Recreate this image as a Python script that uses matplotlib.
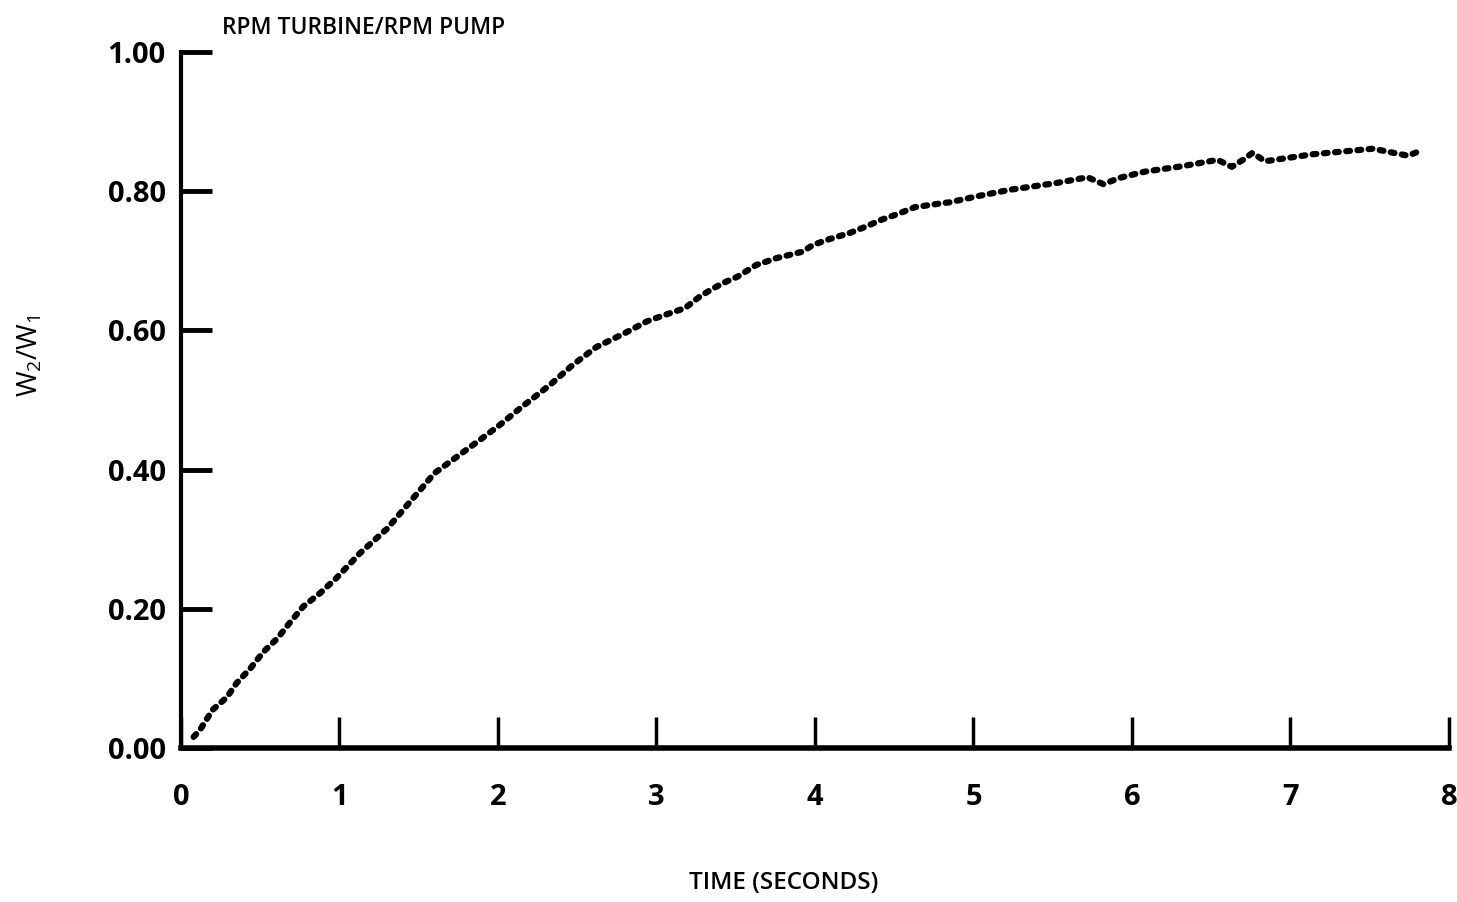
import matplotlib
matplotlib.use("Agg")
import numpy as np
import matplotlib.pyplot as plt

# time (s) and speed ratio
t = [0.08, 0.12, 0.20, 0.29, 0.35, 0.44, 0.52, 0.61, 0.69, 0.77, 0.88, 0.98,
     1.13, 1.30, 1.45, 1.60, 1.75, 1.90, 2.00, 2.15, 2.33, 2.47, 2.62, 2.71,
     2.80, 2.94, 3.05, 3.18, 3.27, 3.34, 3.42, 3.51, 3.63, 3.76, 3.92, 3.99,
     4.09, 4.22, 4.32, 4.42, 4.52, 4.63, 4.81, 4.85, 5.03, 5.23, 5.53, 5.72,
     5.82, 5.92, 6.08, 6.32, 6.54, 6.63, 6.70, 6.76, 6.84, 7.14, 7.52, 7.74,
     7.82]
ratio = [0.016, 0.026, 0.055, 0.073, 0.093, 0.115, 0.138, 0.158, 0.181, 0.203,
         0.223, 0.244, 0.280, 0.315, 0.355, 0.395, 0.420, 0.445, 0.462, 0.490,
         0.522, 0.550, 0.576, 0.586, 0.596, 0.613, 0.622, 0.632, 0.648, 0.658,
         0.668, 0.677, 0.694, 0.704, 0.713, 0.723, 0.731, 0.740, 0.749, 0.759,
         0.767, 0.777, 0.783, 0.784, 0.793, 0.802, 0.812, 0.820, 0.810, 0.819,
         0.828, 0.836, 0.845, 0.835, 0.845, 0.855, 0.843, 0.853, 0.861, 0.851,
         0.858]

x_ticks = [0, 1, 2, 3, 4, 5, 6, 7, 8]
y_ticks = [0.0, 0.2, 0.4, 0.6, 0.8, 1.0]

plt.rcParams['font.family'] = ['Open Sans', 'DejaVu Sans']
plt.rcParams['mathtext.default'] = 'regular'

fig = plt.figure(figsize=(14.57, 9.02), dpi=100)
ax = fig.add_axes([0.1242, 0.1707, 0.8703, 0.7717])

ax.plot(t, ratio, color='black', lw=4.5, linestyle=(0, (0.6, 1.2)),
        solid_capstyle='round', dash_capstyle='round')

ax.set_xlim(0, 8)
ax.set_ylim(0, 1)
ax.set_xticks(x_ticks)
ax.set_xticklabels([str(v) for v in x_ticks])
ax.set_yticks(y_ticks)
ax.set_yticklabels(["%.2f" % v for v in y_ticks])

for s in ['top', 'right']:
    ax.spines[s].set_visible(False)
ax.spines['left'].set_linewidth(3)
ax.spines['bottom'].set_linewidth(4)

ax.tick_params(axis='y', direction='in', length=22, width=3.5, pad=11,
               labelsize=21)
ax.tick_params(axis='x', direction='in', length=22, width=2.5, pad=25,
               labelsize=21)
for lab in ax.get_xticklabels() + ax.get_yticklabels():
    lab.set_fontweight('bold')

fig.text(222 / 1457, 1 - 28 / 902, "RPM TURBINE/RPM PUMP", ha='left',
         va='center', fontsize=16.5, fontweight='semibold')
fig.text(30 / 1457, 1 - 356 / 902, r"W$_2$/W$_1$", rotation=90, ha='center',
         va='center', fontsize=20)
fig.text(784 / 1457, 1 - 883 / 902, "TIME (SECONDS)", ha='center',
         va='center', fontsize=17.5, fontweight='semibold')

fig.savefig("out.png", dpi=100)
